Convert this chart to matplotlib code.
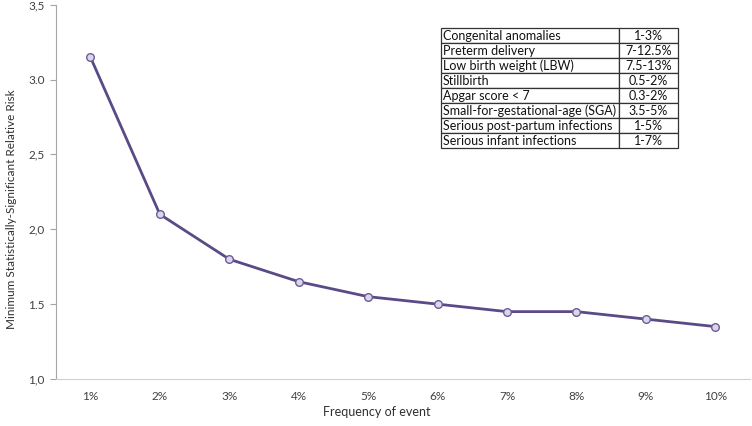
import matplotlib
matplotlib.use('Agg')
import matplotlib.pyplot as plt
import numpy as np

plt.rcParams['font.family'] = ['Lato', 'DejaVu Sans']

freq_labels = ['1%', '2%', '3%', '4%', '5%', '6%', '7%', '8%', '9%', '10%']
min_rr = [3.15, 2.1, 1.8, 1.65, 1.55, 1.5, 1.45, 1.45, 1.4, 1.35]

y_ticks = [1.0, 1.5, 2.0, 2.5, 3.0, 3.5]
y_tick_labels = ['1,0', '1.5', '2,0', '2,5', '3.0', '3,5']

outcomes = ['Congenital anomalies', 'Preterm delivery', 'Low birth weight (LBW)',
            'Stillbirth', 'Apgar score < 7', 'Small-for-gestational-age (SGA)',
            'Serious post-partum infections', 'Serious infant infections']
rates = ['1-3%', '7-12.5%', '7.5-13%', '0.5-2%', '0.3-2%', '3.5-5%', '1-5%', '1-7%']

W, H = 752, 426
fig = plt.figure(figsize=(W / 100, H / 100), dpi=100)
# axes box in pixel coords: left 55.7, right 750, top 4.7, bottom 379
ax = fig.add_axes([55.7 / W, 1 - 379 / H, (750 - 55.7) / W, (379 - 4.7) / H])

x = np.arange(1, len(freq_labels) + 1)
ax.plot(x, min_rr, color='#5A4A87', lw=2.0, marker='o', ms=5.5,
        mfc='#DCD6EA', mec='#6B5C96', mew=1.0, zorder=3)

ax.set_xlim(0.5, len(freq_labels) + 0.5)
ax.set_ylim(1.0, 3.5)
ax.set_xticks(x)
ax.set_xticklabels(freq_labels)
ax.set_yticks(y_ticks)
ax.set_yticklabels(y_tick_labels)

for side in ['top', 'right']:
    ax.spines[side].set_visible(False)
ax.spines['left'].set_color('#A6A6A6')
ax.spines['bottom'].set_color('#D0D0D0')
ax.tick_params(axis='y', direction='out', length=4, color='#A6A6A6',
               labelsize=8.5, labelcolor='#404040', pad=4)
ax.tick_params(axis='x', length=0, labelsize=8.5, labelcolor='#404040', pad=9)

fig.text(377 / W, 1 - 412 / H, 'Frequency of event', ha='center', va='center',
         fontsize=9, color='#303030')
fig.text(12 / W, 1 - 209 / H, 'Minimum Statistically-Significant Relative Risk',
         ha='center', va='center', rotation=90, fontsize=8.5, color='#303030')

# table in the upper right, placed in pixel coords
tl, tr, tt, tb = 440.7, 678, 28.3, 148.3
tab = ax.table(cellText=[[o, r] for o, r in zip(outcomes, rates)],
               colWidths=[(619 - tl) / (tr - tl), (tr - 619) / (tr - tl)],
               bbox=[(tl - 55.7) / (750 - 55.7), (379 - tb) / (379 - 4.7),
                     (tr - tl) / (750 - 55.7), (tb - tt) / (379 - 4.7)],
               zorder=5)
tab.auto_set_font_size(False)
for (r, c), cell in tab.get_celld().items():
    cell.set_linewidth(0.9)
    cell.set_edgecolor('#333333')
    cell.get_text().set_fontsize(9)
    cell.get_text().set_color('#111111')
    if c == 0:
        cell.get_text().set_ha('left')
        cell.PAD = 0.012
    else:
        cell.get_text().set_ha('center')

fig.savefig('out.png', dpi=100)
